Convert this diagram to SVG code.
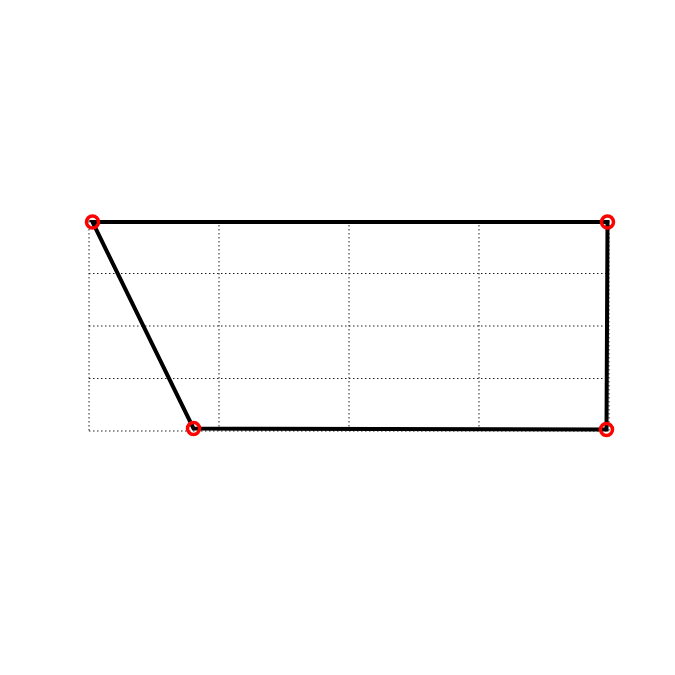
<svg xmlns="http://www.w3.org/2000/svg" width="675" height="675" viewBox="0 0 675 675">
<style>
.grid{stroke:#222;stroke-width:1;stroke-dasharray:1.5,2.5;fill:none}
.edge{stroke:#000;stroke-width:4;fill:none;stroke-linecap:round}
.pt{fill:none;stroke:#f00;stroke-width:3.5}
</style>
<rect width="675" height="675" fill="#fff"/>
<g id="grid">
<line class="grid" x1="89" y1="221" x2="89" y2="431"/>
<line class="grid" x1="219" y1="221" x2="219" y2="431"/>
<line class="grid" x1="349" y1="221" x2="349" y2="431"/>
<line class="grid" x1="479" y1="221" x2="479" y2="431"/>
<line class="grid" x1="609" y1="221" x2="609" y2="431"/>
<line class="grid" x1="89" y1="221" x2="609" y2="221"/>
<line class="grid" x1="89" y1="273.5" x2="609" y2="273.5"/>
<line class="grid" x1="89" y1="326" x2="609" y2="326"/>
<line class="grid" x1="89" y1="378.5" x2="609" y2="378.5"/>
<line class="grid" x1="89" y1="431" x2="609" y2="431"/>
</g>
<g id="connectors">
<polygon class="edge" points="92.5,222 607.5,222 606.5,429.5 193.5,428.5"/>
</g>
<g id="p1"><circle class="pt" cx="92.5" cy="222" r="6"/></g>
<g id="p2"><circle class="pt" cx="607.5" cy="222" r="6"/></g>
<g id="p3"><circle class="pt" cx="606.5" cy="429.5" r="6"/></g>
<g id="p4"><circle class="pt" cx="193.5" cy="428.5" r="6"/></g>
</svg>
